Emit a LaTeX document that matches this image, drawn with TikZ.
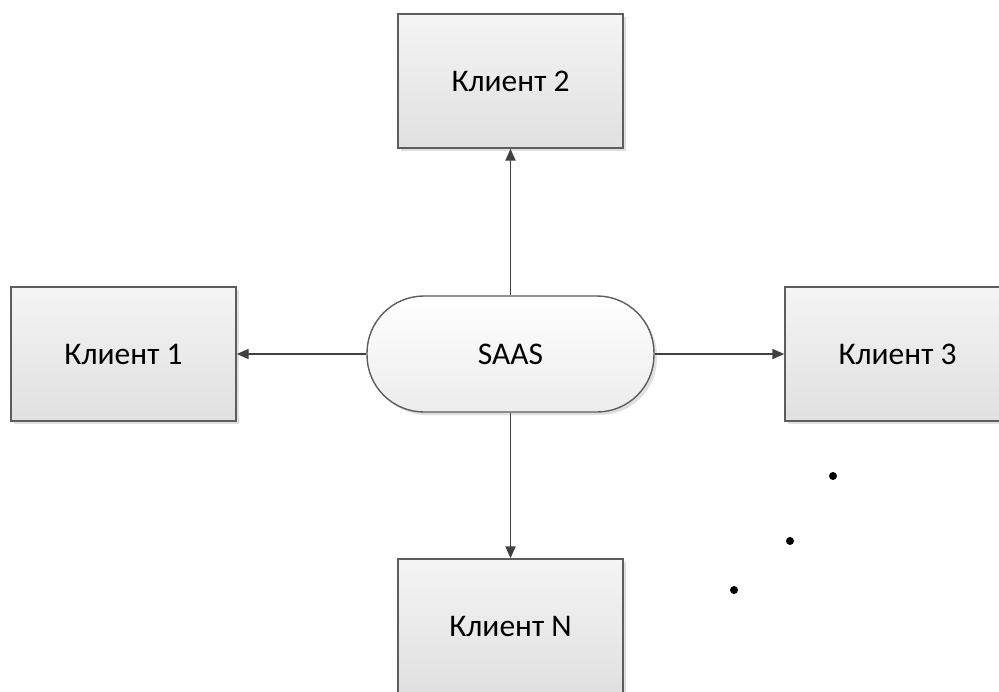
\documentclass[tikz,border=0pt]{standalone}
\usepackage{fontspec}
\setmainfont{Carlito}
\usetikzlibrary{arrows.meta,shadows}
\definecolor{lineC}{RGB}{64,64,64}
\definecolor{boxTop}{RGB}{244,244,244}
\definecolor{boxBot}{RGB}{224,224,224}
\definecolor{pillBot}{RGB}{236,236,236}
\begin{document}
\begin{tikzpicture}[x=1pt,y=-1pt,
  client/.style={draw=lineC!85, line width=1.4pt, top color=boxTop, bottom color=boxBot,
    minimum width=225pt, minimum height=134pt, inner sep=0pt,
    font=\fontsize{31.5}{36}\selectfont,
    drop shadow={shadow xshift=3pt, shadow yshift=-3pt, fill=black!12, opacity=1}},
  pill/.style={draw=lineC!85, line width=1.4pt, top color=white, bottom color=pillBot,
    rounded corners=57pt, minimum width=287pt, minimum height=116pt, inner sep=0pt,
    font=\fontsize{31.5}{36}\selectfont,
    drop shadow={shadow xshift=3pt, shadow yshift=-3pt, fill=black!12, opacity=1}},
  conn/.style={draw=lineC, line width=1.9pt, -{Triangle[length=12pt,width=10pt]}},
  dotm/.style={circle, fill=black, inner sep=0pt, minimum size=8pt}
]
\useasboundingbox (0,0) rectangle (999,691);
\fill[white] (0,0) rectangle (999,691);
\node[client] (k2) at (510.5,81) {Клиент 2};
\node[client] (k1) at (123.5,354) {Клиент 1};
\node[client] (k3) at (897.5,354) {Клиент 3};
\node[client] (kn) at (510.5,626) {Клиент N};
\node[pill] (s) at (510.5,354) {SAAS};
\draw[conn] (s.north) -- (k2.south);
\draw[conn] (s.south) -- (kn.north);
\draw[conn] (s.west) -- (k1.east);
\draw[conn] (s.east) -- (k3.west);
\node[dotm] (d1) at (833,476) {};
\node[dotm] (d2) at (790,541) {};
\node[dotm] (d3) at (734,590) {};
\end{tikzpicture}
\end{document}
